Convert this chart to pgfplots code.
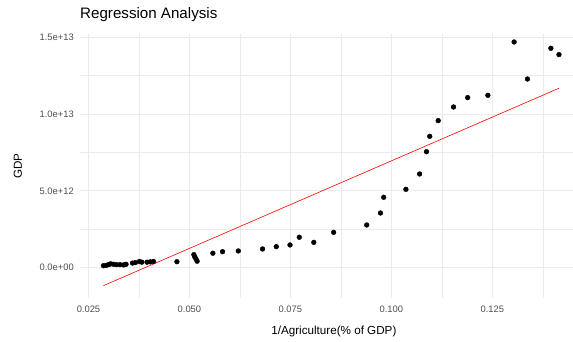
\documentclass[border=0pt]{standalone}
\usepackage{pgfplots}
\pgfplotsset{compat=1.18}
\usepackage{fontspec}
\setmainfont{Liberation Sans}
\definecolor{gridc}{RGB}{235,235,235}
\definecolor{tickc}{RGB}{77,77,77}
\begin{document}
\begin{tikzpicture}
\useasboundingbox (0,0) rectangle (573bp,342bp);
\begin{axis}[
  at={(80bp,44bp)}, anchor=south west,
  scale only axis, width=493bp, height=264bp,
  xmin=0.0229, xmax=0.14498,
  ymin=-1.973e12, ymax=15.21e12,
  axis line style={draw=none},
  major tick length=0pt, minor tick length=0pt,
  xtick={0.025,0.05,0.075,0.1,0.125},
  xticklabels={0.025,0.050,0.075,0.100,0.125},
  minor xtick={0.0375,0.0625,0.0875,0.1125,0.1375},
  ytick={0,5e12,1e13,1.5e13},
  yticklabels={0.0e+00,5.0e+12,1.0e+13,1.5e+13},
  minor ytick={2.5e12,7.5e12,1.25e13},
  scaled ticks=false,
  grid=both,
  major grid style={draw=gridc, line width=0.9bp},
  minor grid style={draw=gridc, line width=0.5bp},
  xticklabel style={anchor=center, inner sep=0pt, yshift=-11bp, text=tickc, font=\fontsize{9.4}{11}\selectfont},
  yticklabel style={anchor=east, inner sep=0pt, xshift=-6bp, text=tickc, font=\fontsize{9.4}{11}\selectfont},
  xlabel={1/Agriculture(\% of GDP)},
  ylabel={GDP},
  xlabel style={at={(axis description cs:0.515,0)}, anchor=center, yshift=-33bp, inner sep=0pt, font=\fontsize{11.7}{14}\selectfont},
  ylabel style={at={(axis description cs:-0.1258,0.5)}, anchor=center, inner sep=0pt, font=\fontsize{11.7}{14}\selectfont},
  title={Regression Analysis},
  title style={at={(axis description cs:0,1)}, anchor=west, inner sep=0pt, yshift=13bp, font=\fontsize{15.2}{18}\selectfont},
]
\addplot[only marks, mark=*, mark size=2.4bp, black] coordinates {
(0.0287,0.13e12) (0.0294,0.15e12) (0.0300,0.20e12) (0.0305,0.25e12)
(0.0312,0.22e12) (0.0319,0.20e12) (0.0328,0.20e12) (0.0337,0.18e12)
(0.0343,0.22e12) (0.0359,0.30e12) (0.0366,0.33e12) (0.0376,0.40e12)
(0.0382,0.36e12) (0.0395,0.36e12) (0.0403,0.38e12) (0.0411,0.40e12)
(0.0469,0.39e12)
(0.0511,0.85e12) (0.0513,0.72e12) (0.0516,0.58e12) (0.0519,0.42e12)
(0.0558,0.94e12) (0.0582,1.04e12) (0.0621,1.09e12) (0.0681,1.22e12)
(0.0715,1.37e12) (0.0749,1.48e12) (0.0772,1.98e12) (0.0808,1.65e12)
(0.0857,2.30e12)
(0.0939,2.78e12) (0.0973,3.56e12) (0.0981,4.58e12) (0.1036,5.10e12)
(0.1070,6.10e12) (0.1087,7.55e12) (0.1095,8.55e12) (0.1116,9.57e12)
(0.1154,10.46e12) (0.1189,11.07e12) (0.1239,11.22e12) (0.1304,14.69e12)
(0.1337,12.28e12) (0.1395,14.28e12) (0.1415,13.87e12)
};
\addplot[red, line width=0.6bp] coordinates {(0.0287,-1.17e12) (0.1415,11.68e12)};
\end{axis}
\end{tikzpicture}
\end{document}
